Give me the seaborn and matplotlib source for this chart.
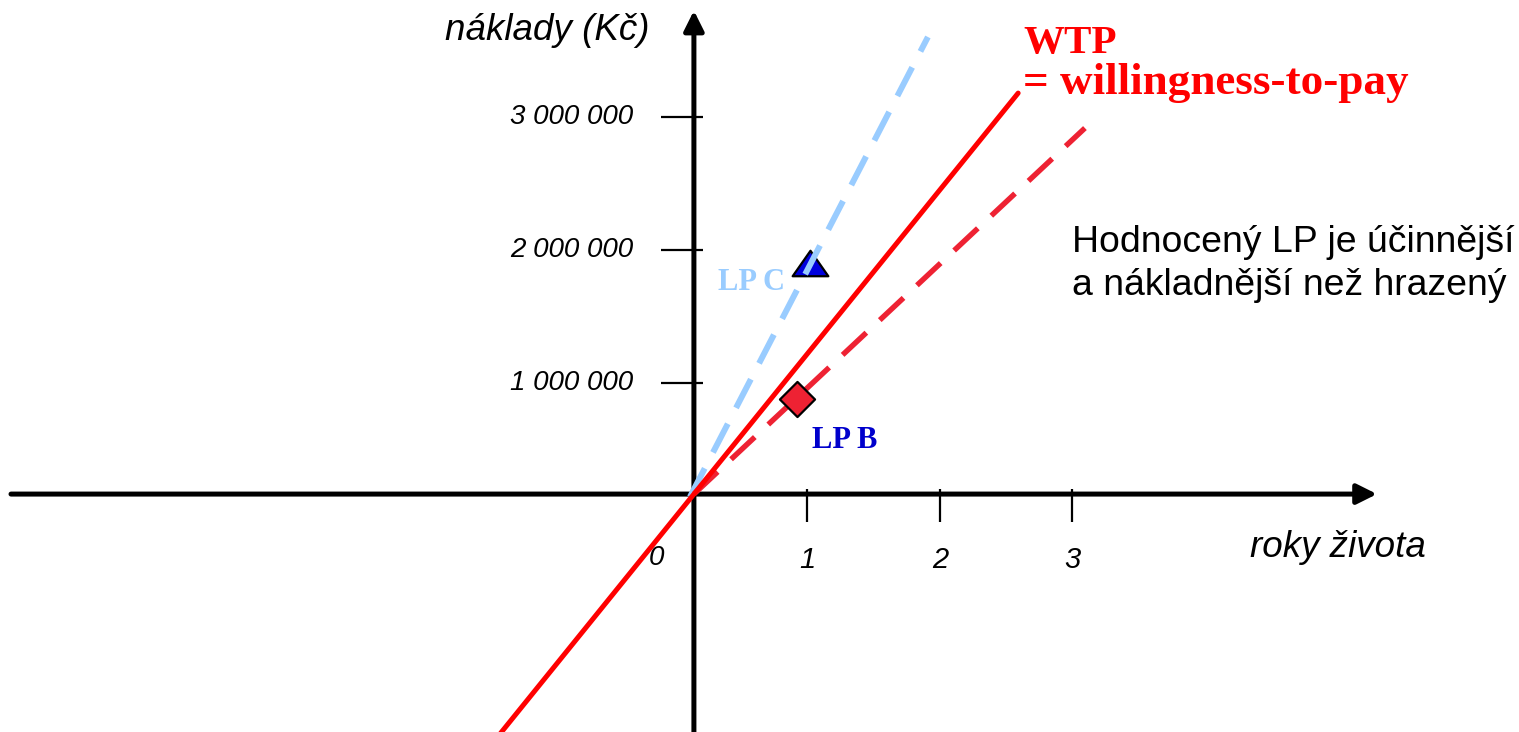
import seaborn as sns
import matplotlib.pyplot as plt
from matplotlib.path import Path

# axis ticks and labels
x_ticks = [1, 2, 3]
x_tick_labels = ['1', '2', '3']
y_ticks = [1000000, 2000000, 3000000]
y_tick_labels = ['1 000 000', '2 000 000', '3 000 000']

# where the drawn axes cross
origin_x = 0.143
origin_y = 165000

# WTP line and the two ICER lines
wtp_x = [-1.33, 2.59]
wtp_y = [-1650000, 3180000]
lpb_line_x = [0.143, 3.094]
lpb_line_y = [165000, 2917000]
lpc_line_x = [0.113, 1.909]
lpc_line_y = [143000, 3602000]

# evaluated drugs
lpb_x = [0.921]
lpb_y = [880000]
lpc_x = [1.019]
lpc_y = [1902000]

sns.set_style('white')
plt.rcParams['font.family'] = ['Liberation Sans', 'DejaVu Sans']
plt.rcParams['text.color'] = 'black'

fig = plt.figure(figsize=(15.19, 7.32), dpi=100)
ax = fig.add_axes([0, 0, 1, 1])
ax.set_xlim(-5.094, 6.370)
ax.set_ylim(-1624000, 3880000)
ax.axis('off')

# axes with arrows
arrow = dict(arrowstyle='-|>', lw=3.6, color='black', mutation_scale=30,
             shrinkA=0, shrinkB=0)
ax.annotate('', xy=(5.298, origin_y), xytext=(-5.011, origin_y), arrowprops=arrow, zorder=2)
ax.annotate('', xy=(origin_x, 3800000), xytext=(origin_x, -1700000), arrowprops=arrow, zorder=2)

# tick marks
ax.vlines(x_ticks, -45000, 203000, color='black', lw=1.6, zorder=2)
ax.hlines(y_ticks, -0.106, 0.211, color='black', lw=1.6, zorder=2)
for t, lab in zip(x_ticks, x_tick_labels):
    ax.text(t, -331000, lab, fontsize=21, style='italic', ha='center', va='center')
for t, lab in zip(y_ticks, y_tick_labels):
    ax.text(-0.317, t, lab, fontsize=20, style='italic', ha='right', va='center')
ax.text(-0.143, -316000, '0', fontsize=20, style='italic', ha='center', va='center')

ax.text(-0.189, 3579000, 'náklady (Kč)', fontsize=26.5, style='italic', ha='right', va='baseline')
ax.text(4.340, -308000, 'roky života', fontsize=26.5, style='italic', ha='left', va='baseline')

# triangle marker (wider than tall)
tri = Path([(0, 0.714), (-1, -0.714), (1, -0.714), (0, 0.714)],
           [Path.MOVETO, Path.LINETO, Path.LINETO, Path.CLOSEPOLY])
sns.scatterplot(x=lpc_x, y=lpc_y, marker=tri, s=660, color='#0000dd',
                edgecolor='black', linewidth=1.6, ax=ax, zorder=3)

sns.lineplot(x=lpc_line_x, y=lpc_line_y, color='#99ccff', linewidth=4.3,
             linestyle=(0, (5.4, 3.0)), ax=ax, zorder=4)
sns.lineplot(x=lpb_line_x, y=lpb_line_y, color='#ee2233', linewidth=3.9,
             linestyle=(0, (6.0, 3.4)), ax=ax, zorder=5)
sns.scatterplot(x=lpb_x, y=lpb_y, marker='D', s=320, color='#ee2233',
                edgecolor='black', linewidth=1.6, ax=ax, zorder=6)
sns.lineplot(x=wtp_x, y=wtp_y, color='#ff0000', linewidth=3.6, ax=ax, zorder=7)

serif = ['Liberation Serif', 'DejaVu Serif']
ax.text(2.626, 3481000, 'WTP', fontsize=29.5, fontweight='bold', family=serif,
        color='#ff0000', ha='left', va='baseline')
ax.text(2.626, 3172000, '= willingness-to-pay', fontsize=32.5, fontweight='bold', family=serif,
        color='#ff0000', ha='left', va='baseline')
ax.text(0.325, 1699000, 'LP C', fontsize=22, fontweight='bold', family=serif,
        color='#99ccff', ha='left', va='baseline')
ax.text(1.034, 511000, 'LP B', fontsize=22, fontweight='bold', family=serif,
        color='#0000cc', ha='left', va='baseline')

ax.text(2.996, 1985000, 'Hodnocený LP je účinnější', fontsize=26.9, ha='left', va='baseline')
ax.text(2.996, 1662000, 'a nákladnější než hrazený', fontsize=26.9, ha='left', va='baseline')

fig.savefig('out.png', dpi=100)
